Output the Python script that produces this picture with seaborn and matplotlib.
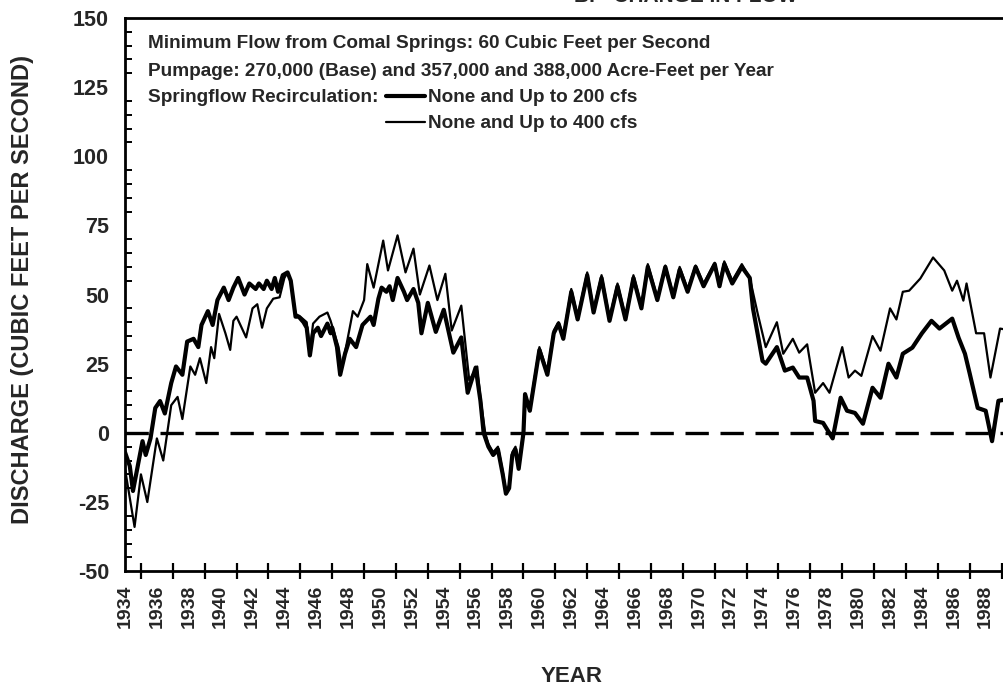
import matplotlib
matplotlib.use("Agg")
import matplotlib.pyplot as plt
import pandas as pd
import seaborn as sns
from matplotlib.lines import Line2D
from matplotlib.ticker import MultipleLocator

# Change in Comal Springs discharge, recirculation up to 200 cfs (heavy line)
years_200 = [1934.0, 1934.3, 1934.5, 1934.8, 1935.1, 1935.3, 1935.6, 1935.9, 1936.2, 1936.5,
             1936.9, 1937.2, 1937.6, 1937.9, 1938.3, 1938.6, 1938.8, 1939.2, 1939.5, 1939.8,
             1940.2, 1940.5, 1940.8, 1941.1, 1941.5, 1941.8, 1942.2, 1942.4, 1942.7, 1942.9,
             1943.2, 1943.4, 1943.6, 1943.9, 1944.2, 1944.4, 1944.7, 1944.9, 1945.2, 1945.4,
             1945.6, 1945.8, 1946.1, 1946.3, 1946.7, 1946.9, 1947.0, 1947.3, 1947.5, 1947.8,
             1948.1, 1948.5, 1948.9, 1949.4, 1949.6, 1949.9, 1950.1, 1950.4, 1950.6, 1950.8,
             1951.1, 1951.5, 1951.7, 1952.1, 1952.4, 1952.6, 1953.0, 1953.5, 1954.0, 1954.6,
             1955.1, 1955.5, 1956.0, 1956.3, 1956.5, 1956.8, 1957.1, 1957.4, 1957.7, 1957.9,
             1958.1, 1958.3, 1958.5, 1958.7, 1959.0, 1959.1, 1959.4, 1960.0, 1960.5, 1960.9,
             1961.2, 1961.5, 1962.0, 1962.4, 1963.0, 1963.4, 1963.9, 1964.4, 1964.9, 1965.4,
             1965.9, 1966.4, 1966.8, 1967.4, 1967.9, 1968.4, 1968.8, 1969.3, 1969.8, 1970.3,
             1971.0, 1971.3, 1971.6, 1972.1, 1972.7, 1973.2, 1973.4, 1974.0, 1974.2, 1974.9,
             1975.4, 1975.9, 1976.3, 1976.8, 1977.2, 1977.3, 1977.8, 1978.4, 1978.9, 1979.3,
             1979.8, 1980.3, 1980.9, 1981.4, 1981.9, 1982.4, 1982.8, 1983.4, 1984.0, 1984.6,
             1985.1, 1985.9, 1986.3, 1986.7, 1987.0, 1987.5, 1988.0, 1988.4, 1988.8, 1989.2,
             1989.6]
flow_200 = [-7, -12, -21, -12, -3, -8, -2, 9, 11.5, 7,
            18, 24, 21, 33, 34, 31, 39, 44, 39, 48,
            52.5, 48, 52.5, 56, 50, 54, 52, 54, 52, 55,
            52, 56, 51, 57, 58, 55, 42, 42, 40, 38,
            28, 36, 38, 35, 39.5, 36, 38, 31, 21, 28.5,
            34, 31, 39, 42, 39, 48.5, 52.5, 51, 53, 48,
            56, 51, 48, 52, 47, 36, 47, 36.5, 44.5, 29,
            34.5, 14.5, 23.6, 11.6, 0, -5, -8, -6, -15, -22,
            -20, -8, -6, -13, 0, 14, 8, 30, 21, 36,
            39.5, 34, 51, 41, 57, 43.5, 56, 40.5, 53, 41,
            56, 45, 60, 48, 60, 49, 59, 51, 60, 53,
            61, 53, 61, 54, 60, 56, 45, 26, 25, 31,
            22.5, 23.6, 20, 20, 11.6, 4.3, 3.6, -2, 12.7, 8,
            7.2, 3.3, 16.3, 12.7, 25, 20, 28.6, 30.8, 36, 40.5,
            37.7, 41.3, 34.4, 28.6, 21.4, 9, 8, -3, 11.6, 12,
            10]

# Change in Comal Springs discharge, recirculation up to 400 cfs (light line)
years_400 = [1934.0, 1934.2, 1934.6, 1935.0, 1935.4, 1936.0, 1936.4, 1936.9, 1937.3, 1937.6,
             1938.1, 1938.4, 1938.7, 1939.1, 1939.4, 1939.6, 1939.9, 1940.3, 1940.6, 1940.8,
             1941.0, 1941.6, 1942.0, 1942.3, 1942.6, 1942.9, 1943.3, 1943.7, 1944.0, 1944.2,
             1944.4, 1944.7, 1945.0, 1945.4, 1945.6, 1945.8, 1946.2, 1946.7, 1946.9, 1947.4,
             1947.6, 1947.9, 1948.3, 1948.6, 1949.0, 1949.2, 1949.6, 1950.2, 1950.5, 1951.1,
             1951.6, 1952.1, 1952.5, 1953.1, 1953.6, 1954.1, 1954.5, 1955.1, 1955.6, 1956.1,
             1956.3, 1956.6, 1956.8, 1957.1, 1957.4, 1957.7, 1957.9, 1958.1, 1958.3, 1958.5,
             1958.7, 1959.0, 1959.1, 1959.4, 1960.0, 1960.5, 1960.9, 1961.2, 1961.5, 1962.0,
             1962.4, 1963.0, 1963.4, 1963.9, 1964.4, 1964.9, 1965.4, 1965.9, 1966.4, 1966.8,
             1967.4, 1967.9, 1968.4, 1968.8, 1969.3, 1969.8, 1970.3, 1971.0, 1971.3, 1971.6,
             1972.1, 1972.7, 1973.2, 1973.7, 1974.2, 1974.9, 1975.3, 1975.9, 1976.3, 1976.8,
             1977.3, 1977.8, 1978.2, 1979.0, 1979.4, 1979.8, 1980.2, 1980.9, 1981.4, 1982.0,
             1982.4, 1982.8, 1983.2, 1983.9, 1984.7, 1985.4, 1985.9, 1986.2, 1986.6, 1986.8,
             1987.4, 1987.9, 1988.3, 1988.9, 1989.6]
flow_400 = [-13, -20, -34, -15, -25, -2, -10, 10, 13, 5,
            24, 21, 27, 18, 31, 27, 43, 36, 30, 40.5,
            42, 34.5, 45, 46.5, 38, 45, 48.5, 49, 56, 58,
            55, 43, 42, 40, 30, 39.5, 42, 43.5, 40.5, 31,
            23.6, 32, 44, 42, 48, 61, 52.5, 69.5, 58.7, 71.4,
            58, 66.6, 50, 60.5, 48, 57.5, 37, 46, 19, 24,
            12.7, 0, -4, -7, -5, -14, -21, -19, -7, -5,
            -12, 1, 14, 9, 31, 22, 37, 40, 35, 52,
            42, 58, 44.5, 57, 41.5, 54, 42, 57, 46, 61,
            49, 60.5, 50, 60, 52, 60.5, 54, 61.5, 54, 62,
            55, 61, 56, 43, 31, 40, 28.6, 34, 29, 32,
            14.5, 18, 14.5, 31, 20, 22.5, 20.6, 35, 29.7, 45,
            41, 51, 51.4, 55.8, 63.4, 58.7, 51.4, 55, 47.8, 54,
            36, 36, 20, 37.7, 37]

year_ticks = list(range(1934, 1989, 2))
flow_ticks = [-50, -25, 0, 25, 50, 75, 100, 125, 150]
minimum_flow_change = 0

legend_lines = [
    "Minimum Flow from Comal Springs: 60 Cubic Feet per Second",
    "Pumpage: 270,000 (Base) and 357,000 and 388,000 Acre-Feet per Year",
    "Springflow Recirculation:",
]
series_labels = ["None and Up to 200 cfs", "None and Up to 400 cfs"]

df200 = pd.DataFrame({"year": years_200, "flow": flow_200})
df400 = pd.DataFrame({"year": years_400, "flow": flow_400})

sns.set_theme(style="white")
plt.rcParams["font.family"] = ["Liberation Sans", "DejaVu Sans"]

fig = plt.figure(figsize=(10.04, 6.89), dpi=100)
ax = fig.add_axes([0.1245, 0.171, 0.889, 0.803])

sns.lineplot(data=df400, x="year", y="flow", ax=ax, color="black", lw=1.6,
             estimator=None, sort=False)
sns.lineplot(data=df200, x="year", y="flow", ax=ax, color="black", lw=3.0,
             estimator=None, sort=False)
ax.axhline(minimum_flow_change, color="black", lw=2.4, ls=(0, (7, 3.5)), zorder=1)

ax.set_xlim(1934, 1990)
ax.set_ylim(-50, 150)
ax.set_xticks(year_ticks)
ax.set_xticklabels([str(y) for y in year_ticks], rotation=90, fontsize=14,
                   fontweight="bold")
ax.xaxis.set_minor_locator(MultipleLocator(1))
ax.set_yticks(flow_ticks)
ax.set_yticklabels([str(v) for v in flow_ticks], fontsize=15.5, fontweight="bold")
ax.yaxis.set_minor_locator(MultipleLocator(5))

ax.tick_params(axis="x", which="both", direction="inout", length=11, width=1.6,
               color="black", pad=4)
ax.tick_params(axis="y", which="major", direction="inout", length=11, width=1.6,
               color="black", pad=6)
ax.tick_params(axis="y", which="minor", direction="in", length=5, width=1.4,
               color="black", left=True)
ax.tick_params(axis="x", which="minor", bottom=True)

for side in ["left", "bottom", "top", "right"]:
    ax.spines[side].set_color("black")
    ax.spines[side].set_linewidth(2.0)

ax.set_xlabel("YEAR", fontsize=16, fontweight="bold")
ax.xaxis.set_label_coords(0.5, -0.172)
ax.set_ylabel("DISCHARGE (CUBIC FEET PER SECOND)", fontsize=17, fontweight="bold")
ax.yaxis.set_label_coords(-0.102, 0.51)

# header annotation block
txt = dict(transform=ax.transAxes, fontsize=13.7, fontweight="bold",
           va="center", ha="left")
ax.text(0.026, 0.953, legend_lines[0], **txt)
ax.text(0.026, 0.904, legend_lines[1], **txt)
ax.text(0.026, 0.857, legend_lines[2], **txt)
ax.add_line(Line2D([0.292, 0.336], [0.859, 0.859], transform=ax.transAxes,
                   color="black", lw=3.0))
ax.text(0.339, 0.857, series_labels[0], **txt)
ax.add_line(Line2D([0.292, 0.336], [0.812, 0.812], transform=ax.transAxes,
                   color="black", lw=1.6))
ax.text(0.339, 0.810, series_labels[1], **txt)

fig.text(0.683, 1 - 2.5 / 689, "B. - CHANGE IN FLOW", fontsize=15, fontweight="bold",
         ha="center", va="baseline")

fig.savefig("out.png", dpi=100)
